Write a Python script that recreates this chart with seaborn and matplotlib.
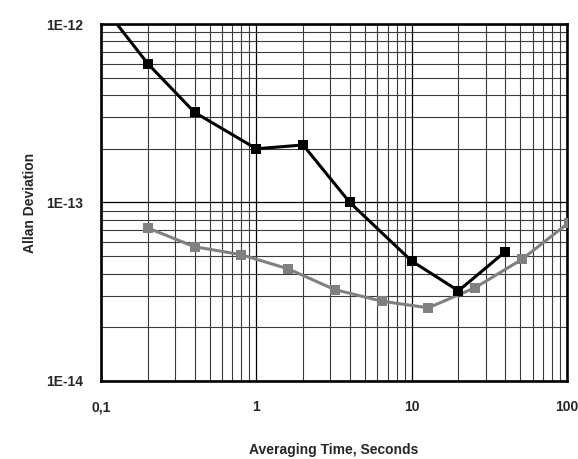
import numpy as np
import pandas as pd
import seaborn as sns
import matplotlib.pyplot as plt
from matplotlib.ticker import FixedLocator, LogLocator, NullFormatter

# Data
black_tau = [0.1, 0.2, 0.4, 1, 2, 4, 10, 20, 40]
black_adev = [1.3e-12, 6.0e-13, 3.2e-13, 2.0e-13, 2.1e-13, 1.0e-13, 4.7e-14, 3.2e-14, 5.3e-14]

gray_tau = [0.2, 0.4, 0.8, 1.6, 3.2, 6.4, 12.8, 25.6, 51.2, 102.4]
gray_adev = [7.2e-14, 5.65e-14, 5.1e-14, 4.25e-14, 3.25e-14, 2.8e-14, 2.57e-14, 3.33e-14, 4.8e-14, 7.7e-14]

x_ticks = [0.1, 1, 10, 100]
x_labels = ['0,1', '1', '10', '100']
y_ticks = [1e-14, 1e-13, 1e-12]
y_labels = ['1E-14', '1E-13', '1E-12']

sns.set_style('white')
plt.rcParams['font.family'] = ['Liberation Sans', 'DejaVu Sans']

df_black = pd.DataFrame({'tau': black_tau, 'adev': black_adev})
df_gray = pd.DataFrame({'tau': gray_tau, 'adev': gray_adev})

fig = plt.figure(figsize=(5.78, 4.59), dpi=100)
ax = fig.add_axes([0.1747, 0.170, 0.8063, 0.7777])
ax.set_xscale('log')
ax.set_yscale('log')

sns.lineplot(data=df_gray, x='tau', y='adev', ax=ax, color='#808080', marker='s',
             markersize=7, markeredgewidth=0, linewidth=2.2, zorder=3)
sns.lineplot(data=df_black, x='tau', y='adev', ax=ax, color='black', marker='s',
             markersize=7, markeredgewidth=0, linewidth=2.2, zorder=4)

ax.set_xlim(0.1, 100)
ax.set_ylim(1e-14, 1e-12)

ax.xaxis.set_major_locator(FixedLocator(x_ticks))
ax.yaxis.set_major_locator(FixedLocator(y_ticks))
ax.xaxis.set_minor_locator(LogLocator(base=10, subs=np.arange(2, 10)))
ax.yaxis.set_minor_locator(LogLocator(base=10, subs=np.arange(2, 10)))
ax.xaxis.set_minor_formatter(NullFormatter())
ax.yaxis.set_minor_formatter(NullFormatter())
ax.set_xticklabels(x_labels, fontsize=10, fontweight='bold')
ax.set_yticklabels(y_labels, fontsize=10, fontweight='bold')
ax.tick_params(axis='both', which='both', length=0)
ax.tick_params(axis='x', pad=14)
ax.tick_params(axis='y', pad=13)

ax.grid(True, which='major', color='black', linewidth=0.9)
ax.grid(True, which='minor', color='#3a3a3a', linewidth=0.8)
ax.set_axisbelow(True)

for s in ax.spines.values():
    s.set_visible(True)
    s.set_color('black')
    s.set_linewidth(1.9)

ax.set_xlabel('Averaging Time, Seconds', fontsize=10, fontweight='bold', va='center')
ax.set_ylabel('Allan Deviation', fontsize=10, fontweight='bold', va='center')
ax.xaxis.set_label_coords(0.5, -0.193)
ax.yaxis.set_label_coords(-0.152, 0.5)

fig.savefig('out.png', dpi=100)
